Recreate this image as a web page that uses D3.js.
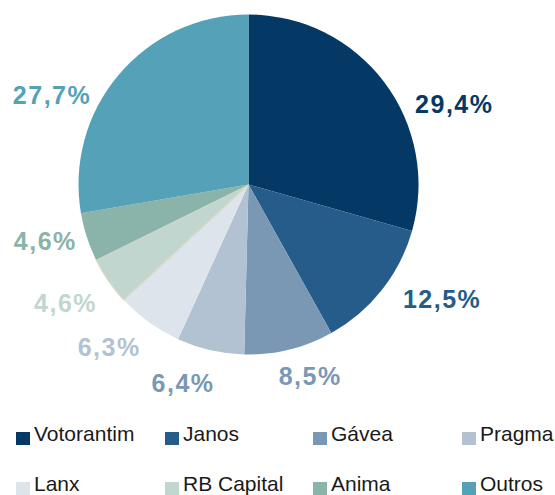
<!DOCTYPE html>
<html>
<head>
<meta charset="utf-8">
<script src="https://cdn.jsdelivr.net/npm/d3@7"></script>
<style>
  html, body { margin: 0; padding: 0; background: #fff; }
  svg { display: block; }
</style>
</head>
<body>
<svg id="chart" width="555" height="495"></svg>
<script>
// ---- data ----
const categories = ["Votorantim", "Janos", "Gávea", "Pragma", "Lanx", "RB Capital", "Anima", "Outros"];
const values = [29.4, 12.5, 8.5, 6.4, 6.3, 4.6, 4.6, 27.7];
const valueLabels = ["29,4%", "12,5%", "8,5%", "6,4%", "6,3%", "4,6%", "4,6%", "27,7%"];

// ---- styles ----
const colors = ["#043966", "#265c8a", "#7a98b4", "#b2c2d3", "#dde4eb", "#c1d6cf", "#8ab3a9", "#54a1b8"];
const labelColors = ["#043966", "#265c8a", "#7a98b4", "#7a98b4", "#b2c2d3", "#c1d6cf", "#8ab3a9", "#54a1b8"];
// label layout tweaks (degrees shift from slice mid-angle, radius from centre)
const labelShiftDeg = [15.7, -7.7, -4.0, 5.3, 4.8, 1.6, 2.4, -15.6];
const labelRadius = [221, 225, 201, 209, 214, 218, 211, 216];

const svg = d3.select("#chart");
const cx = 248.5, cy = 184.5, R = 170;

const pie = d3.pie().sort(null).value(d => d);
const arcs = pie(values);
const arc = d3.arc().innerRadius(0).outerRadius(R);

const g = svg.append("g").attr("transform", `translate(${cx},${cy})`);

g.selectAll("path.slice")
  .data(arcs)
  .join("path")
  .attr("class", "slice")
  .attr("d", arc)
  .attr("fill", (d, i) => colors[i])
  .attr("stroke", (d, i) => i === 5 ? "#dcdac6" : "none")
  .attr("stroke-width", (d, i) => i === 5 ? 1.3 : 0);

// labels
g.selectAll("text.lbl")
  .data(arcs)
  .join("text")
  .attr("class", "lbl")
  .each(function(d, i) {
    const mid = (d.startAngle + d.endAngle) / 2 + labelShiftDeg[i] * Math.PI / 180;
    const r = labelRadius[i];
    d3.select(this)
      .attr("x", Math.sin(mid) * r)
      .attr("y", -Math.cos(mid) * r + 9);
  })
  .attr("text-anchor", "middle")
  .attr("font-family", "'Liberation Sans', Arial, sans-serif")
  .attr("font-weight", "bold")
  .attr("font-size", 25)
  .attr("letter-spacing", 1.5)
  .attr("fill", (d, i) => labelColors[i])
  .text((d, i) => valueLabels[i]);

// legend
const colX = [16, 165, 313, 462];
const rowY = [441, 491];
const leg = svg.append("g");
categories.forEach((c, i) => {
  const x = colX[i % 4], y = rowY[Math.floor(i / 4)];
  leg.append("rect")
    .attr("x", x).attr("y", y - 9)
    .attr("width", 14).attr("height", 13)
    .attr("fill", colors[i]);
  leg.append("text")
    .attr("x", x + 18).attr("y", y)
    .attr("font-family", "'Liberation Sans', Arial, sans-serif")
    .attr("font-size", 21)
    .attr("fill", "#1a1a1a")
    .text(c);
});
</script>
</body>
</html>
